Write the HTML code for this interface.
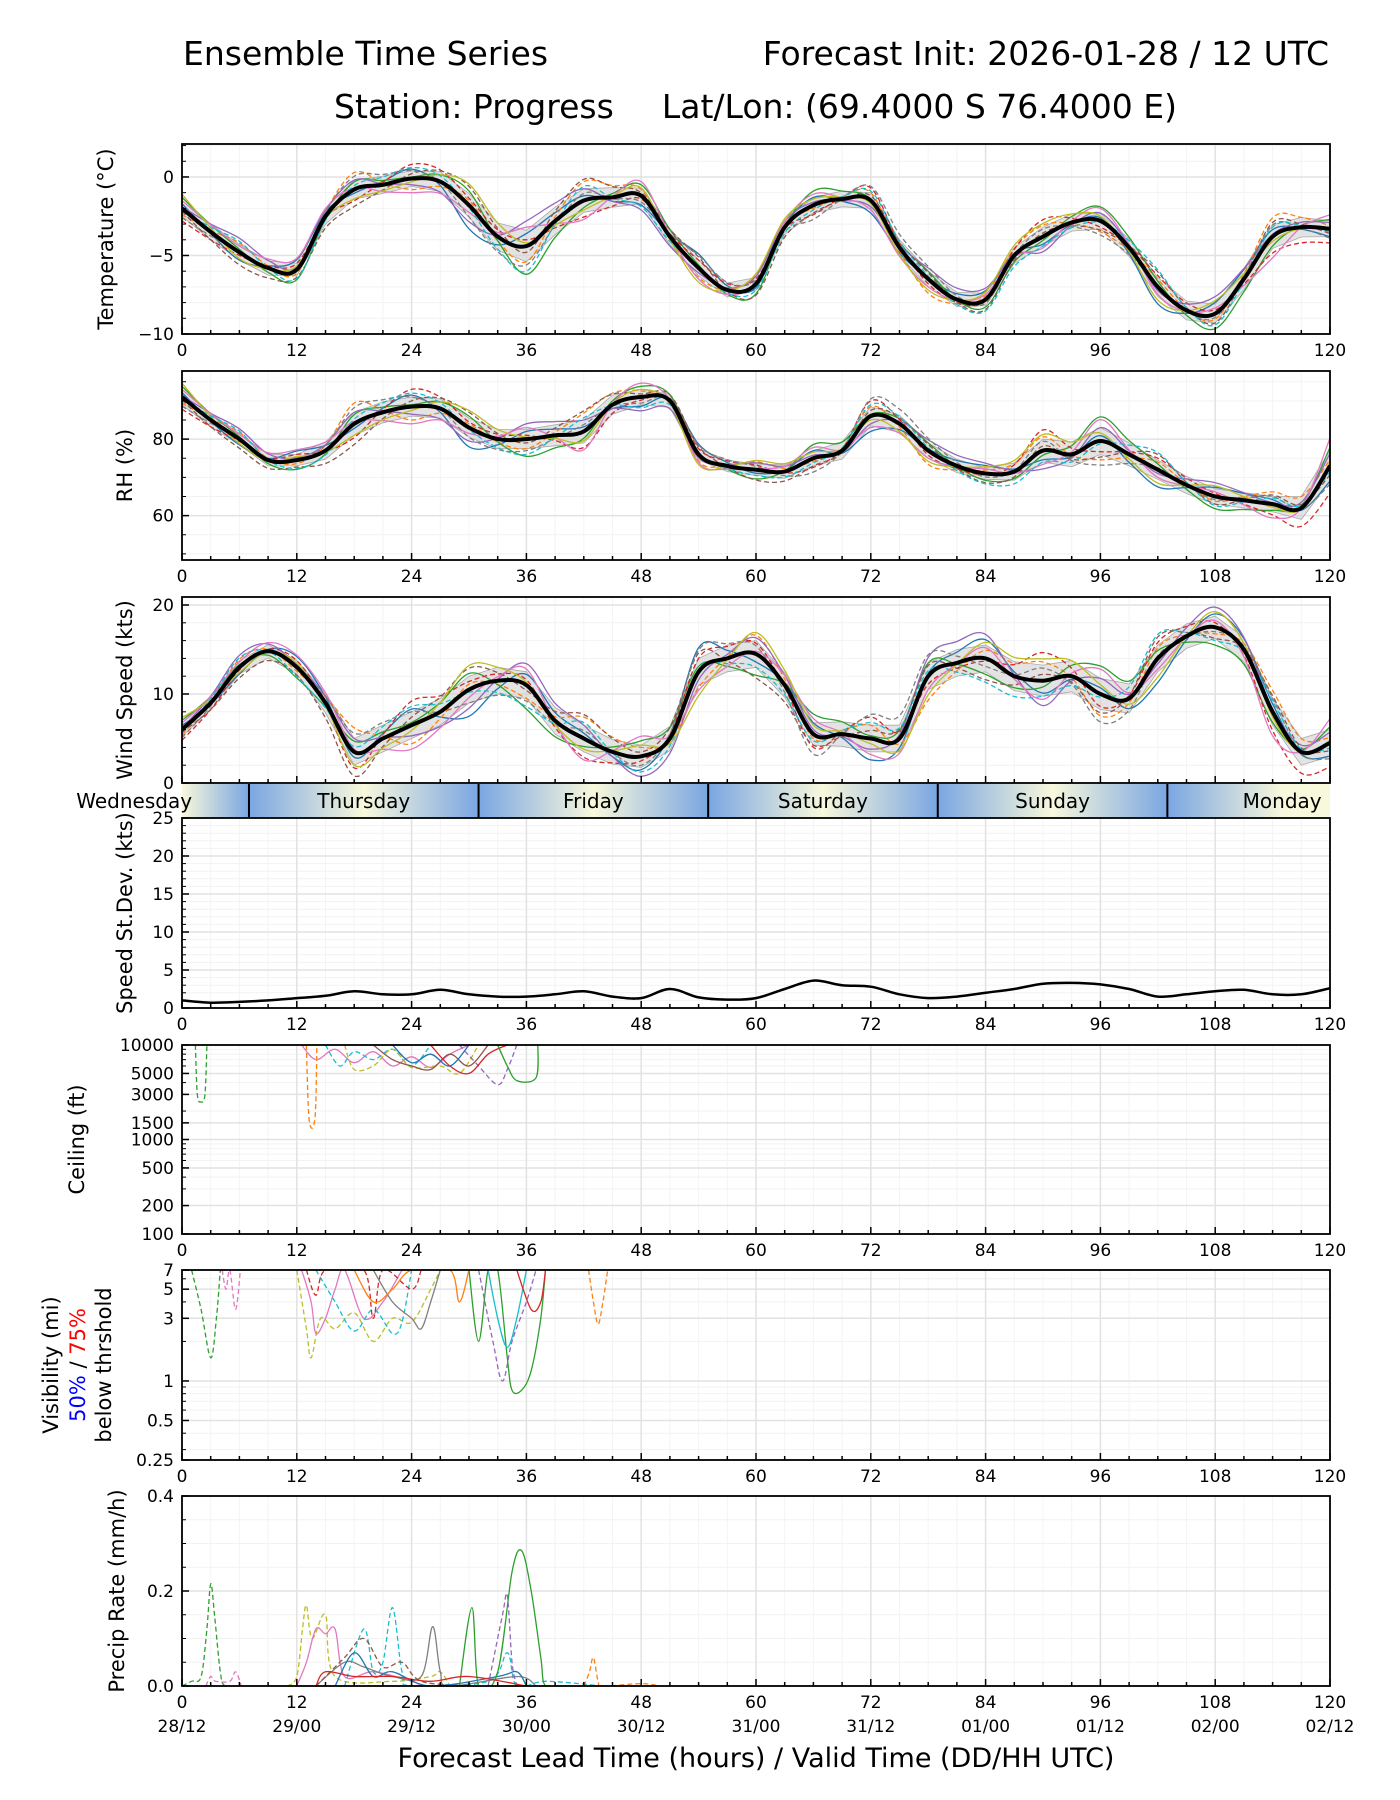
<!DOCTYPE html>
<html><head><meta charset="utf-8"><title>Ensemble Time Series</title>
<style>
html,body{margin:0;padding:0;background:#fff;}
svg{display:block;font-family:"DejaVu Sans","Liberation Sans",sans-serif;}
</style></head>
<body>
<svg id="chart" width="1400" height="1800" viewBox="0 0 1400 1800" xmlns="http://www.w3.org/2000/svg">
<text x="183" y="65" font-size="33">Ensemble Time Series</text>
<text x="1329" y="65" font-size="33" text-anchor="end">Forecast Init: 2026-01-28 / 12 UTC</text>
<text x="334" y="118" font-size="33">Station: Progress</text>
<text x="1177" y="118" font-size="33" text-anchor="end">Lat/Lon: (69.4000 S 76.4000 E)</text>
<g id="layer"></g>
</svg>
<script>
// ---- data ----
const hours3 = [0,3,6,9,12,15,18,21,24,27,30,33,36,39,42,45,48,51,54,57,60,63,66,69,72,75,78,81,84,87,90,93,96,99,102,105,108,111,114,117,120];
const tempMean = [-2,-3.5,-4.8,-5.8,-5.9,-2.5,-0.8,-0.5,-0.1,-0.3,-1.8,-3.8,-4.4,-2.8,-1.5,-1.3,-1.2,-3.8,-5.8,-7.2,-6.8,-3.2,-1.8,-1.4,-1.5,-4.5,-6.5,-7.8,-7.8,-5,-3.8,-2.9,-2.8,-4.5,-7,-8.5,-8.7,-6.5,-3.8,-3.2,-3.3];
const rhMean = [91,85,80,74.5,74.5,77,84,87,88.5,88,83,80,80,81,82,89,91,90,76,73,72,71.5,75,77,86,84,77,73,71,71.5,77,76,79.5,76,72,68,65,64,63,62,73];
const windMean = [6,9,13,14.8,13,9,3.5,5,6.5,8,10.5,11.5,11,7,5,3.5,3,5,12.5,14,14.5,11,5.5,5.5,5,5,12,13.5,14,12,11.5,12,10,9.5,14,16.5,17.5,15,8,3.5,4.5];
const sdMean = [1,0.7,0.8,1,1.3,1.6,2.2,1.8,1.8,2.4,1.8,1.5,1.5,1.8,2.2,1.5,1.3,2.5,1.4,1.1,1.3,2.5,3.6,3,2.8,1.8,1.3,1.5,2,2.5,3.2,3.3,3.1,2.5,1.5,1.8,2.2,2.4,1.8,1.8,2.6];
const hours6 = [0,6,12,18,24,30,36,42,48,54,60,66,72,78,84,90,96,102,108,114,120];
const tempSpread = [1,1,0.8,1.2,1,1.5,2,1.5,1,1,0.8,1,1,1,0.8,1.2,1,1.2,1.2,1.5,1];
const rhSpread = [4,3,3,6,5,5,5,6,4,3,3,4,5,4,3,6,7,5,4,4,8];
const windSpread = [1.5,1.5,1.5,3,3,3,3,3,2.5,3,3,2.5,3,3,3,3.5,3.5,3,2.5,3,3];
const m0 = [0.3,-0.5,0.8,-0.2,0.6,-1,0.4,0.2,-0.6,0.9,-0.3,0.5,-0.8,0.1,0.7,-0.4,0.2,-0.9,0.6,0.3,-0.5];
const m1 = [-0.4,0.6,-0.3,0.9,-0.7,0.2,-0.5,0.8,0.4,-0.6,0.7,-0.2,0.5,-0.9,0.3,0.6,-0.7,0.4,-0.3,0.8,0.2];
const m2 = [0.7,0.2,-0.8,0.4,0.1,0.6,-0.9,-0.3,0.7,0.2,-0.8,0.9,0.1,0.5,-0.6,-0.2,0.9,0.3,-0.8,-0.4,0.6];
const m3 = [-0.8,-0.2,0.5,-0.6,0.9,0.3,0.2,-0.7,-0.2,0.5,0.4,-0.6,0.8,-0.3,-0.1,0.9,-0.4,0.6,0.2,-0.7,-0.9];
const m4 = [0.1,0.9,0.2,0.5,-0.4,-0.7,0.8,0.5,-0.9,-0.3,0.6,0.2,-0.4,0.7,0.9,-0.8,0.5,-0.2,0.9,0.1,0.4];
const m5 = [-0.2,-0.8,-0.6,-0.9,0.3,0.8,-0.2,0.9,0.2,0.7,-0.9,-0.5,0.3,0.4,-0.8,0.2,-0.6,0.8,-0.5,0.6,-0.3];
const m6 = [0.5,0.4,0.9,0.1,-0.9,-0.3,0.6,-0.8,0.9,-0.7,0.1,0.7,-0.6,-0.5,0.4,-0.6,0.8,-0.4,0.3,-0.9,0.9];
const m7 = [-0.6,0.1,-0.1,0.7,0.5,-0.5,-0.6,0.3,-0.4,0.8,0.3,-0.9,0.9,0.8,-0.3,0.4,-0.9,0.1,-0.2,0.5,-0.6];
const m8 = [0.9,-0.4,0.3,-0.5,-0.2,0.9,0.1,-0.4,0.5,-0.9,0.8,0.4,-0.2,-0.7,0.6,0.7,0.3,-0.7,0.7,-0.2,0.1];
const m9 = [-0.1,0.7,-0.7,0.2,0.7,-0.1,-0.8,0.6,-0.7,0.1,-0.5,-0.3,0.6,0.2,-0.9,-0.5,-0.1,0.9,-0.6,0.4,-0.2];
const memberDevs = [m0,m1,m2,m3,m4,m5,m6,m7,m8,m9];
const memberColors = ["#1f77b4","#ff7f0e","#2ca02c","#d62728","#9467bd","#8c564b","#e377c2","#7f7f7f","#bcbd22","#17becf"];
const ceilSeries = [
 {c:"#2ca02c",d:true,p:[[1.4,10000],[1.6,3000],[2,2500],[2.4,3000],[2.6,10000]]},
 {c:"#ff7f0e",d:true,p:[[13,10000],[13.3,1600],[13.9,1700],[14.1,10000]]},
 {c:"#e377c2",d:false,p:[[12.5,10000],[14,7000],[16,9000],[18,6500],[20,8500],[22,6000],[24,7500],[26,5800],[28,8000],[30,10000]]},
 {c:"#17becf",d:true,p:[[15,10000],[16.5,6000],[18,8500],[20,7000],[22,9000],[24,6000],[26,10000]]},
 {c:"#bcbd22",d:true,p:[[17,10000],[18,5500],[20,6000],[22,9000],[24,5800],[27,6000],[29,5000],[31,10000]]},
 {c:"#8c564b",d:false,p:[[20,10000],[22,7000],[24,6000],[26,5500],[28,8000],[30,6000],[32,10000]]},
 {c:"#9467bd",d:true,p:[[29,10000],[31,6000],[33,3800],[34,5500],[35,10000]]},
 {c:"#d62728",d:false,p:[[26,10000],[28,6000],[30,5000],[32,8000],[34,10000]]},
 {c:"#1f77b4",d:false,p:[[22,10000],[24,6500],[26,8000],[28,6000],[30,10000]]},
 {c:"#2ca02c",d:false,p:[[33,10000],[34,6000],[35,4200],[37,4500],[37.2,10000]]}
];
const visSeries = [
 {c:"#2ca02c",d:true,p:[[1,7],[2,3.5],[3,1.5],[3.6,3],[4,7]]},
 {c:"#e377c2",d:true,p:[[4.2,7],[4.6,5],[5,7],[5.6,3.5],[6.1,7]]},
 {c:"#bcbd22",d:true,p:[[12,7],[13,2.5],[13.5,1.5],[14.5,3],[16,2.5],[18,3.3],[20,2],[22,3],[24,2.8],[26,5],[27,7]]},
 {c:"#e377c2",d:false,p:[[12.5,7],[13.5,4],[14,2.3],[15,3],[16,5],[17,7],[19,3],[21,4],[23,7]]},
 {c:"#17becf",d:true,p:[[14,7],[16,4],[18,2.4],[20,3.5],[22,2.3],[23,2.8],[24,7]]},
 {c:"#d62728",d:true,p:[[13,7],[14,4.5],[15,7],[19,7],[20,3],[21,7],[24,5],[25,7]]},
 {c:"#7f7f7f",d:false,p:[[20,7],[22,4],[24,3],[25,2.5],[26,4],[27,7]]},
 {c:"#ff7f0e",d:false,p:[[18,7],[20,4],[22,5],[24,7],[28,7],[29,4],[30,7]]},
 {c:"#2ca02c",d:false,p:[[30,7],[31,2],[32,7],[33,7],[34,1.5],[34.5,0.85],[35.5,0.85],[36.5,1.2],[37.5,3],[38,7]]},
 {c:"#9467bd",d:true,p:[[31,7],[32.5,2],[33.5,1],[34.5,2],[36,4],[37,7]]},
 {c:"#17becf",d:false,p:[[32,7],[33,3],[34,1.8],[35,3],[36,7]]},
 {c:"#d62728",d:false,p:[[35,7],[36.5,3.5],[37.5,4],[38,7]]},
 {c:"#ff7f0e",d:true,p:[[42.5,7],[43,4],[43.5,2.7],[44,4],[44.5,7]]}
];
const precipSeries = [
 {c:"#2ca02c",d:true,p:[[0,0],[1,0.01],[2,0.02],[2.6,0.12],[3,0.215],[3.4,0.15],[4,0.03],[4.5,0],[6,0]]},
 {c:"#e377c2",d:true,p:[[2.5,0],[3,0.02],[3.5,0.01],[5,0.01],[5.6,0.03],[6.2,0]]},
 {c:"#bcbd22",d:true,p:[[11,0],[12,0.02],[12.6,0.12],[13,0.17],[13.6,0.1],[15,0.15],[16,0.02],[22,0.01],[26,0.02],[27,0.03],[28,0]]},
 {c:"#e377c2",d:false,p:[[12,0],[13,0.05],[14,0.12],[15,0.11],[16,0.12],[17,0.02],[20,0.03],[24,0.01],[25,0]]},
 {c:"#17becf",d:true,p:[[17,0],[19,0.12],[20,0.03],[21,0.05],[22,0.165],[23,0.03],[24,0],[32,0.01],[34,0.07],[35,0],[38,0.01],[44,0]]},
 {c:"#7f7f7f",d:false,p:[[14,0],[17,0.05],[19,0.04],[22,0.02],[25,0.02],[26.2,0.125],[27,0.03],[28,0],[35,0.02],[37,0]]},
 {c:"#8c564b",d:true,p:[[14,0],[17,0.06],[19,0.1],[21,0.04],[23,0.05],[25,0.01],[30,0]]},
 {c:"#1f77b4",d:false,p:[[16,0],[18,0.07],[20,0.02],[22,0.03],[26,0],[33,0.02],[35,0.03],[36,0]]},
 {c:"#2ca02c",d:false,p:[[29,0],[30.3,0.165],[31,0],[33,0.03],[34.5,0.24],[35.5,0.285],[36.5,0.2],[37.5,0.06],[38,0],[40,0]]},
 {c:"#9467bd",d:true,p:[[32,0],[33.5,0.15],[34,0.19],[34.5,0.05],[35,0]]},
 {c:"#d62728",d:false,p:[[14,0],[15,0.03],[18,0.02],[22,0.02],[26,0.01],[30,0.02],[36,0]]},
 {c:"#ff7f0e",d:true,p:[[42,0],[42.6,0.03],[43,0.06],[43.5,0.01],[44,0],[48,0.005],[50,0]]}
];
const xTicks = [0,12,24,36,48,60,72,84,96,108,120];
const dateLabels = ["28/12","29/00","29/12","30/00","30/12","31/00","31/12","01/00","01/12","02/00","02/12"];
const dayNames = ["Wednesday","Thursday","Friday","Saturday","Sunday","Monday"];
const dayNoonHours = [-5,19,43,67,91,115];
const midnightHours = [7,31,55,79,103];

// ---- layout ----
const NS="http://www.w3.org/2000/svg";
const layer=document.getElementById('layer');
const X0=182, X1=1330;
function xs(h){return X0+(h/120)*(X1-X0);}
function mk(tag,attrs,parent){const e=document.createElementNS(NS,tag);for(const k in attrs)e.setAttribute(k,attrs[k]);(parent||layer).appendChild(e);return e;}
function interp(hs,vs,h){for(let i=0;i<hs.length-1;i++){if(h>=hs[i]&&h<=hs[i+1]){const t=(h-hs[i])/(hs[i+1]-hs[i]);return vs[i]+t*(vs[i+1]-vs[i]);}}return vs[vs.length-1];}

function panel(name,top,bot,ys,majors,minors,label,fmt,logTicks,noXLabels){
  const g=mk('g',{});
  
  
  minors.forEach(v=>{const y=ys(v);const l=mk('line',{x1:X0,x2:X1,y1:y,y2:y,stroke:'#f2f2f2','stroke-width':1},g);});
  for(let h=3;h<120;h+=3){if(h%12){const l=mk('line',{x1:xs(h),x2:xs(h),y1:top,y2:bot,stroke:'#f4f4f4','stroke-width':1},g);}}
  majors.forEach(v=>{const y=ys(v);const l=mk('line',{x1:X0,x2:X1,y1:y,y2:y,stroke:'#e2e2e2','stroke-width':1.5},g);});
  xTicks.forEach(h=>{const l=mk('line',{x1:xs(h),x2:xs(h),y1:top,y2:bot,stroke:'#e2e2e2','stroke-width':1.5},g);});
  const clip=mk('clipPath',{id:'clip-'+name},g);mk('rect',{x:X0,y:top,width:X1-X0,height:bot-top},clip);
  const data=mk('g',{'clip-path':'url(#clip-'+name+')'},g);
  
  
  const frame=mk('g',{},g);
  
  
  for(let h=0;h<=120;h+=3){const big=h%12===0;mk('line',{x1:xs(h),x2:xs(h),y1:bot,y2:bot-(big?7:4),stroke:'#000','stroke-width':1.5},frame);}
  majors.forEach(v=>{mk('line',{x1:X0,x2:X0+7,y1:ys(v),y2:ys(v),stroke:'#000','stroke-width':1.5},frame);});
  minors.forEach(v=>{mk('line',{x1:X0,x2:X0+4,y1:ys(v),y2:ys(v),stroke:'#000','stroke-width':1},frame);});
  mk('rect',{x:X0,y:top,width:X1-X0,height:bot-top,fill:'none',stroke:'#000','stroke-width':1.8},frame);
  (logTicks||majors).forEach(v=>{const t=mk('text',{x:X0-8,y:ys(v)+6,'font-size':17,'text-anchor':'end'},frame);t.textContent=fmt(v);});
  if(!noXLabels){xTicks.forEach(h=>{const t=mk('text',{x:xs(h),y:bot+22,'font-size':17,'text-anchor':'middle'},frame);t.textContent=String(h);});}
  if(label){const cy=(top+bot)/2;const t=mk('text',{x:0,y:0,'font-size':21,'text-anchor':'middle',transform:'translate('+(label.x)+','+cy+') rotate(-90)'},g);t.textContent=label.t;}
  return data;
}
function pathFrom(pts){return pts.map((p,i)=>(i?'L':'M')+p[0].toFixed(1)+','+p[1].toFixed(1)).join('');}
function smoothFrom(pts){
  let d='M'+pts[0][0].toFixed(1)+','+pts[0][1].toFixed(1);
  for(let i=0;i<pts.length-1;i++){
    const p0=pts[Math.max(0,i-1)],p1=pts[i],p2=pts[i+1],p3=pts[Math.min(pts.length-1,i+2)];
    const c1=[p1[0]+(p2[0]-p0[0])/6,p1[1]+(p2[1]-p0[1])/6];
    const c2=[p2[0]-(p3[0]-p1[0])/6,p2[1]-(p3[1]-p1[1])/6];
    d+='C'+c1[0].toFixed(1)+','+c1[1].toFixed(1)+' '+c2[0].toFixed(1)+','+c2[1].toFixed(1)+' '+p2[0].toFixed(1)+','+p2[1].toFixed(1);
  }
  return d;
}

function ensemblePanel(name,top,bot,vmin,vmax,mean,spread,majors,minors,label,noXLabels){
  const ys=v=>bot-(v-vmin)/(vmax-vmin)*(bot-top);
  const data=panel(name,top,bot,ys,majors,minors,label,v=>v<0?'\u2212'+(-v):String(v),null,noXLabels);
  const hi=hours3.map((h,i)=>[xs(h),ys(mean[i]+0.5*interp(hours6,spread,h))]);
  const lo=hours3.map((h,i)=>[xs(h),ys(mean[i]-0.5*interp(hours6,spread,h))]).reverse();
  const band=mk('path',{d:pathFrom(hi.concat(lo))+'Z',fill:'#d0d0d0','fill-opacity':0.6,stroke:'#aaa','stroke-width':0.8},data);
  
  
  memberDevs.forEach((dev,k)=>{
    const pts=hours3.map((h,i)=>[xs(h),ys(mean[i]+interp(hours6,dev,h)*interp(hours6,spread,h))]);
    const p=mk('path',{d:smoothFrom(pts),fill:'none',stroke:memberColors[k],'stroke-width':1.3,'stroke-dasharray':k%2?'5,3':'none','stroke-linejoin':'round'},data);
    
    
  });
  const mp=mk('path',{d:smoothFrom(hours3.map((h,i)=>[xs(h),ys(mean[i])])),fill:'none',stroke:'#000','stroke-width':4,'stroke-linejoin':'round'},data);
  
  
}
function rng(a,b,s){const r=[];for(let v=a;v<=b+1e-9;v+=s)r.push(+v.toFixed(3));return r;}

ensemblePanel('temperature',144,334,-10,2.1,tempMean,tempSpread,[-10,-5,0],rng(-9,2,1),{x:113,t:'Temperature (\u00b0C)'});
ensemblePanel('rh',371,560,48.4,97.8,rhMean,rhSpread,[60,80],rng(50,95,5),{x:132,t:'RH (%)'});
ensemblePanel('wind-speed',597,783,0,20.9,windMean,windSpread,[0,10,20],rng(2,20,2),{x:132,t:'Wind Speed (kts)'},true);

// day strip
(function(){
  const g=mk('g',{});
  
  
  const defs=mk('defs',{},g);
  const grad=mk('linearGradient',{id:'dayGrad',gradientUnits:'userSpaceOnUse',x1:X0,x2:X1,y1:0,y2:0},defs);
  const stops=[];
  dayNoonHours.forEach(h=>stops.push([h,'#f8f8dc']));
  midnightHours.forEach(h=>stops.push([h,'#7aa6e2']));
  stops.sort((a,b)=>a[0]-b[0]);
  stops.forEach(s=>mk('stop',{offset:Math.max(0,Math.min(1,s[0]/120)),'stop-color':s[1]},grad));
  mk('rect',{x:X0,y:784,width:X1-X0,height:34,fill:'url(#dayGrad)'},g);
  midnightHours.forEach(h=>{const l=mk('line',{x1:xs(h),x2:xs(h),y1:784,y2:818,stroke:'#000','stroke-width':2},g);});
  dayNames.forEach((d,i)=>{const t=mk('text',{x:xs(dayNoonHours[i]),y:808,'font-size':20,'text-anchor':'middle'},g);t.textContent=d;});
})();

// std dev panel
(function(){
  const top=818,bot=1008;const ys=v=>bot-v/25*(bot-top);
  const data=panel('speed-stdev',top,bot,ys,[0,5,10,15,20,25],rng(1,24,1),{x:132,t:'Speed St.Dev. (kts)'},v=>String(v));
  const p=mk('path',{d:smoothFrom(hours3.map((h,i)=>[xs(h),ys(sdMean[i])])),fill:'none',stroke:'#000','stroke-width':2.5,'stroke-linejoin':'round'},data);
  
  
})();

function sparse(data,series,xsF,ysF,name){
  series.forEach(s=>{const p=mk('path',{d:smoothFrom(s.p.map(q=>[xsF(q[0]),ysF(q[1])])),fill:'none',stroke:s.c,'stroke-width':1.3,'stroke-dasharray':s.d?'5,3':'none'},data);
    
    });
}
// ceiling
(function(){
  const top=1045,bot=1234;const ys=v=>bot-(Math.log10(v)-2)/2*(bot-top);
  const minors=[200,300,400,500,600,700,800,900,2000,3000,4000,5000,6000,7000,8000,9000];
  const data=panel('ceiling',top,bot,ys,[100,1000,10000,200,500,1500,3000,5000],minors,{x:84,t:'Ceiling (ft)'},v=>String(v),[10000,5000,3000,1500,1000,500,200,100]);
  sparse(data,ceilSeries,xs,ys,'ceiling');
})();
// visibility
(function(){
  const top=1270,bot=1460;const ys=v=>bot-(Math.log10(v/0.25))/Math.log10(28)*(bot-top);
  const data=panel('visibility',top,bot,ys,[0.25,0.5,1,3,5,7],[0.3,0.4,0.6,0.7,0.8,0.9,2,4,6],null,v=>String(v));
  sparse(data,visSeries,xs,ys,'visibility');
  const g=mk('g',{});
  
  
  const cy=(top+bot)/2;
  const t1=mk('text',{'font-size':21,'text-anchor':'middle',transform:'translate(58,'+cy+') rotate(-90)'},g);t1.textContent='Visibility (mi)';
  const t2=mk('text',{'font-size':21,'text-anchor':'middle',transform:'translate(85,'+cy+') rotate(-90)'},g);
  const a=mk('tspan',{fill:'#0000ff'},t2);a.textContent='50%';const b=mk('tspan',{fill:'#000'},t2);b.textContent=' / ';const c=mk('tspan',{fill:'#ff0000'},t2);c.textContent='75%';
  const t3=mk('text',{'font-size':21,'text-anchor':'middle',transform:'translate(111,'+cy+') rotate(-90)'},g);t3.textContent='below thrshold';
})();
// precip
(function(){
  const top=1496,bot=1686;const ys=v=>bot-v/0.4*(bot-top);
  const data=panel('precip',top,bot,ys,[0,0.2,0.4],[0.05,0.1,0.15,0.25,0.3,0.35],{x:124,t:'Precip Rate (mm/h)'},v=>v.toFixed(1));
  sparse(data,precipSeries,xs,v=>ys(Math.max(0,v)),'precip');
  xTicks.forEach((h,i)=>{const t=mk('text',{x:xs(h),y:1732,'font-size':17,'text-anchor':'middle'});t.textContent=dateLabels[i];
    
    });
  const xl=mk('text',{x:756,y:1767,'font-size':27,'text-anchor':'middle'});xl.textContent='Forecast Lead Time (hours) / Valid Time (DD/HH UTC)';
  
  
})();
</script>
</body></html>
